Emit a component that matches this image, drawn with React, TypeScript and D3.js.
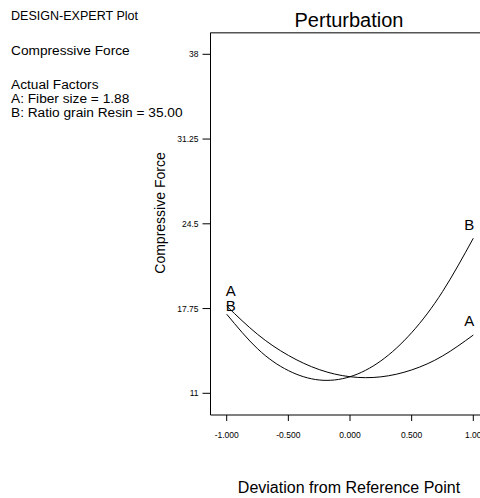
import React from "react";
import * as d3 from "d3";

const deviations = [-1, -0.75, -0.5, -0.25, 0, 0.25, 0.5, 0.75, 1];
const seriesA = [17.95, 15.7, 14.02, 12.89, 12.32, 12.31, 12.86, 13.97, 15.64];
const seriesB = [17.3, 14.55, 12.81, 12.06, 12.32, 13.58, 15.83, 19.09, 23.35];
const seriesNames = ["A", "B"];
const xTicks = [-1, -0.5, 0, 0.5, 1];
const xTickLabels = ["-1.000", "-0.500", "0.000", "0.500", "1.00"];
const yTicks = [11, 17.75, 24.5, 31.25, 38];
const yTickLabels = ["11", "17.75", "24.5", "31.25", "38"];
const infoLines = ["DESIGN-EXPERT Plot", "Compressive Force", "Actual Factors", "A: Fiber size = 1.88", "B: Ratio grain Resin = 35.00"];

const W = 480;
const H = 498;
const FONT = "Liberation Sans, Arial, sans-serif";

export default function App() {
  const x = d3.scaleLinear().domain([-1, 1]).range([226.7, 473.3]);
  const y = d3.scaleLinear().domain([11, 38]).range([393.3, 54.3]);
  const left = 210.5;
  const top = 32.7;
  const bottom = 415;
  const line = d3
    .line<number>()
    .x((_, i) => x(deviations[i]))
    .y((v) => y(v))
    .curve(d3.curveNatural);
  const series = [seriesA, seriesB];
  const leftDy = [-10, -3];
  const rightDy = [-9, -8];
  const infoY = [20, 55, 89, 103, 117];

  return (
    <svg width={W} height={H} style={{ position: "absolute", left: 0, top: 0 }} fontFamily={FONT}>
      <rect width={W} height={H} fill="#fff" />
      {infoLines.map((t, i) => (
        <text
          key={t}
          x={11}
          y={infoY[i]}
          fontSize={13.7}
          fill="#000"
          {...(i === 0 ? { textLength: 127, lengthAdjust: "spacingAndGlyphs" } : {})}
        >
          {t}
        </text>
      ))}
      <text x={349} y={27} fontSize={20} textAnchor="middle" fill="#000">
        Perturbation
      </text>
      {/* frame */}
      <line x1={left} x2={W} y1={top} y2={top} stroke="#555" strokeWidth={1.5} />
      <line x1={left} x2={left} y1={top} y2={bottom} stroke="#000" strokeWidth={1} />
      <line x1={left} x2={W} y1={bottom} y2={bottom} stroke="#000" strokeWidth={1} />
      {/* y ticks */}
      {yTicks.map((v, i) => (
        <g key={v}>
          <line x1={left - 8} x2={left} y1={y(v)} y2={y(v)} stroke="#000" strokeWidth={1} />
          <text x={left - 12} y={y(v) + 3} fontSize={8.5} textAnchor="end" fill="#000">
            {yTickLabels[i]}
          </text>
        </g>
      ))}
      {/* x ticks */}
      {xTicks.map((v, i) => (
        <g key={v}>
          <line x1={x(v)} x2={x(v)} y1={bottom} y2={bottom + 6} stroke="#000" strokeWidth={1} />
          <text x={x(v)} y={438} fontSize={8.5} textAnchor="middle" fill="#000">
            {xTickLabels[i]}
          </text>
        </g>
      ))}
      <text
        transform={`translate(165,213) rotate(-90)`}
        fontSize={14}
        textAnchor="middle"
        fill="#000"
      >
        Compressive Force
      </text>
      <text x={349} y={493} fontSize={16} textAnchor="middle" fill="#000">
        Deviation from Reference Point
      </text>
      {series.map((s, k) => (
        <g key={seriesNames[k]}>
          <path d={line(s) || ""} fill="none" stroke="#000" strokeWidth={1} />
          <text x={x(deviations[0]) - 1} y={y(s[0]) + leftDy[k]} fontSize={15} fill="#000">
            {seriesNames[k]}
          </text>
          <text
            x={x(deviations[deviations.length - 1]) + 1}
            y={y(s[s.length - 1]) + rightDy[k]}
            fontSize={15}
            textAnchor="end"
            fill="#000"
          >
            {seriesNames[k]}
          </text>
        </g>
      ))}
    </svg>
  );
}
